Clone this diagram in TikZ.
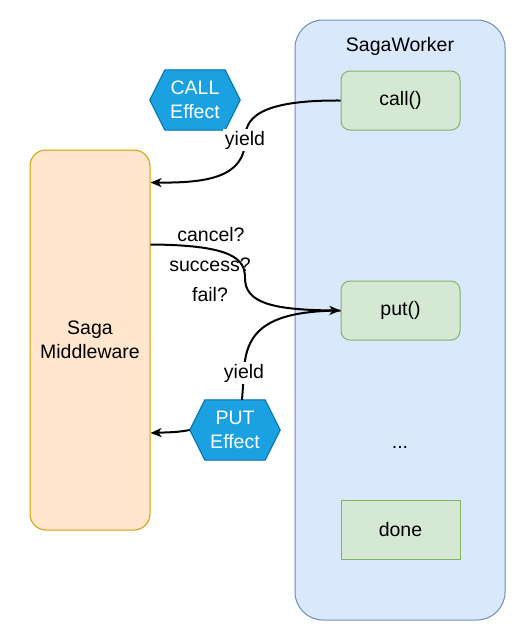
\documentclass[tikz,border=0pt]{standalone}
\usepackage{fontspec}
\setmainfont{Liberation Sans}
\usetikzlibrary{arrows.meta,calc}
\definecolor{wfill}{HTML}{DAE8FC}\definecolor{wdraw}{HTML}{6C8EBF}
\definecolor{gfill}{HTML}{D5E8D4}\definecolor{gdraw}{HTML}{82B366}
\definecolor{ofill}{HTML}{FFE6CC}\definecolor{odraw}{HTML}{D79B00}
\definecolor{hfill}{HTML}{1BA1E2}\definecolor{hdraw}{HTML}{006EAF}
\begin{document}
\begin{tikzpicture}[x=1pt,y=-1pt,
  every node/.style={font=\fontsize{19.5}{24}\selectfont, inner sep=0pt},
  worker/.style={draw=wdraw, fill=wfill, line width=1pt, rounded corners=28pt},
  stepbox/.style={draw=gdraw, fill=gfill, line width=1pt, minimum width=119pt, minimum height=59pt},
  mware/.style={draw=odraw, fill=ofill, line width=1pt, rounded corners=16pt, minimum width=120pt, minimum height=380pt, align=center},
  hexnode/.style={minimum width=90pt, minimum height=60pt, text=white, align=center},
  hex/.style={draw=hdraw, fill=hfill, line width=1pt},
  conn/.style={line width=2pt, -{Stealth[length=11pt,width=9pt,inset=3pt]}},
  plain/.style={line width=2pt},
  lbl/.style={fill=white, inner sep=2pt}
]
\useasboundingbox (0,0) rectangle (531,641);
% SagaWorker container
\node[worker, minimum width=210pt, minimum height=600pt] (worker) at (400,320) {};
\node (wlabel) at (400,46) {SagaWorker};
\node[stepbox, rounded corners=9pt] (call) at (400.5,100.5) {call()};
\node[stepbox, rounded corners=9pt] (put) at (400.5,310.5) {put()};
\node (dots) at (400,447) {...};
\node[stepbox] (done) at (400.5,530) {done};
% Middleware
\node[mware] (mw) at (90,340) {Saga\\Middleware};
% Hexagons
\node[hexnode] (callfx) at (195,100) {};
\draw[hex] (callfx.west) -- ($(callfx.north west)+(15,0)$) -- ($(callfx.north east)+(-15,0)$)
  -- (callfx.east) -- ($(callfx.south east)+(-15,0)$) -- ($(callfx.south west)+(15,0)$) -- cycle;
\node[hexnode] at (callfx) {CALL\\Effect};
\node[hexnode] (putfx) at (235,430) {};
\draw[hex] (putfx.west) -- ($(putfx.north west)+(15,0)$) -- ($(putfx.north east)+(-15,0)$)
  -- (putfx.east) -- ($(putfx.south east)+(-15,0)$) -- ($(putfx.south west)+(15,0)$) -- cycle;
\node[hexnode] at (putfx) {PUT\\Effect};
% connectors
\coordinate (mwA) at ($(mw.north east)+(0,33)$);
\coordinate (mwB) at ($(mw.north east)+(0,95)$);
\coordinate (mwC) at ($(mw.east)+(0,93)$);
\coordinate (y1) at (245,140);
\coordinate (y2) at (244,373);
\coordinate (s2) at (245,278);
\draw[conn] (call.west) .. controls (255,100) and (245,120) .. (y1)
  .. controls (245,178) and (205,183) .. (mwA);
\draw[conn] (mwB) .. controls (235,245) and (245,260) .. (s2)
  .. controls (245,302) and (270,310) .. (put.west);
\draw[plain] (put.west) .. controls (268,311) and (245,330) .. (y2) -- ($(putfx.north)+(7,0)$);
\draw[conn] (putfx.west) .. controls (178,432) .. (mwC);
% labels
\node[lbl] (ly1) at (y1) {yield};
\node[lbl] (ly2) at (y2) {yield};
\node (lc) at (211,235) {cancel?};
\node (ls) at (210,265) {success?};
\node (lf) at (210,295) {fail?};
\end{tikzpicture}
\end{document}
